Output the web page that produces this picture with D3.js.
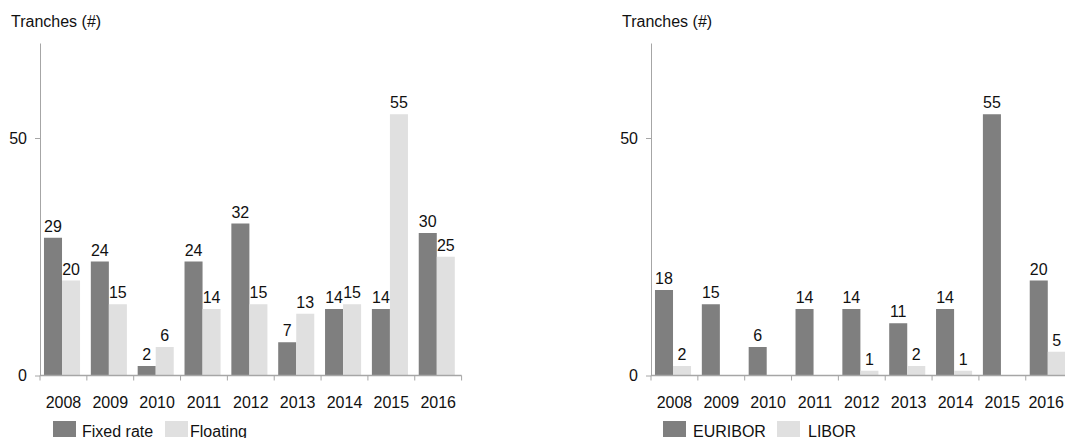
<!DOCTYPE html>
<html>
<head>
<meta charset="utf-8">
<script src="https://cdnjs.cloudflare.com/ajax/libs/d3/7.8.5/d3.min.js"></script>
<style>
  body { margin: 0; background: #fff; }
  svg { display: block; font-family: "Liberation Sans", Arial, sans-serif; }
  .lbl { font-size: 16px; fill: #111; }
  .axis path, .axis line { stroke: #a6a6a6; }
</style>
</head>
<body>
<svg id="chart" width="1065" height="438"></svg>
<script>
var years = ["2008", "2009", "2010", "2011", "2012", "2013", "2014", "2015", "2016"];
var yTicks = [0, 50];

var fixedRate = [29, 24, 2, 24, 32, 7, 14, 14, 30];
var floating  = [20, 15, 6, 14, 15, 13, 15, 55, 25];

var euribor = [18, 15, 6, 14, 14, 11, 14, 55, 20];
var libor   = [2, 0, 0, 0, 1, 2, 1, 0, 5];

var darkColor = "#7f7f7f",
    lightColor = "#e0e0e0";

var svgWidth = 1065;
var svg = d3.select("#chart");

var y = d3.scaleLinear()
    .domain([0, 70])
    .range([375.5, 43]);

var drawPanel = function(left, names, seriesA, seriesB, legend) {
    var g = svg.append("g");

    var x0 = d3.scaleBand()
        .domain(years)
        .range([left, left + 421.6]);

    var x1 = d3.scaleBand()
        .domain([0, 1])
        .range([x0.bandwidth() * 0.085, x0.bandwidth() * 0.855]);

    var rows = years.map(function(yr, i) {
        return {year: yr, values: [seriesA[i], seriesB[i]]};
    });

    // bars
    var grp = g.selectAll(".grp")
        .data(rows)
        .enter().append("g")
        .attr("class", "grp")
        .attr("transform", function(d) { return "translate(" + x0(d.year) + ",0)"; });

    grp.selectAll("rect")
        .data(function(d) { return d.values; })
        .enter().append("rect")
        .attr("x", function(d, i) { return x1(i); })
        .attr("width", x1.bandwidth())
        .attr("y", function(d) { return y(d); })
        .attr("height", function(d) { return y(0) - y(d); })
        .style("fill", function(d, i) { return i == 0 ? darkColor : lightColor; });

    grp.selectAll("text")
        .data(function(d) { return d.values; })
        .enter().filter(function(d) { return d > 0; })
        .append("text")
        .attr("class", "lbl")
        .attr("text-anchor", "middle")
        .attr("x", function(d, i) { return x1(i) + x1.bandwidth() / 2; })
        .attr("y", function(d) { return y(d) - 6; })
        .text(function(d) { return d; });

    // y axis
    var yAxis = g.append("g")
        .attr("class", "axis")
        .attr("transform", "translate(" + left + ",0)")
        .call(d3.axisLeft(y).tickValues(yTicks).tickSize(5).tickPadding(8).tickSizeOuter(0));
    yAxis.selectAll("text").attr("class", "lbl").style("font-family", null);

    // x axis: line, boundary ticks, year labels
    var xAxis = g.append("g")
        .attr("class", "axis")
        .attr("transform", "translate(0," + y(0) + ")");

    xAxis.append("line")
        .attr("x1", left).attr("x2", left + 421.6)
        .style("stroke-width", 1.5);

    xAxis.selectAll(".tk")
        .data(years.concat(["end"]))
        .enter().append("line")
        .attr("class", "tk")
        .attr("x1", function(d) { return d == "end" ? x0.range()[1] : x0(d); })
        .attr("x2", function(d) { return d == "end" ? x0.range()[1] : x0(d); })
        .attr("y1", 0).attr("y2", 5);

    xAxis.selectAll(".yr")
        .data(years)
        .enter().append("text")
        .attr("class", "lbl")
        .attr("text-anchor", "middle")
        .attr("x", function(d) { return x0(d) + x0.bandwidth() / 2; })
        .attr("y", 32)
        .text(function(d) { return d; })
        .each(function() {
            // keep the label inside the page, like the original does
            var t = d3.select(this),
                half = this.getComputedTextLength() / 2,
                cx = +t.attr("x");
            if (cx + half > svgWidth - 1) t.attr("x", svgWidth - 1 - half);
        });

    // title
    g.append("text")
        .attr("class", "lbl")
        .attr("x", left - 29)
        .attr("y", 27)
        .text("Tranches (#)");

    // legend
    var lg = g.append("g")
        .attr("transform", "translate(" + (left + legend[0]) + ",421)");
    lg.append("rect").attr("width", 23).attr("height", 16).style("fill", darkColor);
    lg.append("text").attr("class", "lbl").attr("x", legend[1]).attr("y", 15.5).text(names[0]);
    lg.append("rect").attr("x", legend[2]).attr("width", 23).attr("height", 16).style("fill", lightColor);
    lg.append("text").attr("class", "lbl").attr("x", legend[3]).attr("y", 15.5).text(names[1]);
}

drawPanel(40, ["Fixed rate", "Floating"], fixedRate, floating, [13, 29, 112, 137]);
drawPanel(651, ["EURIBOR", "LIBOR"], euribor, libor, [12, 30, 114, 145]);
</script>
</body>
</html>
